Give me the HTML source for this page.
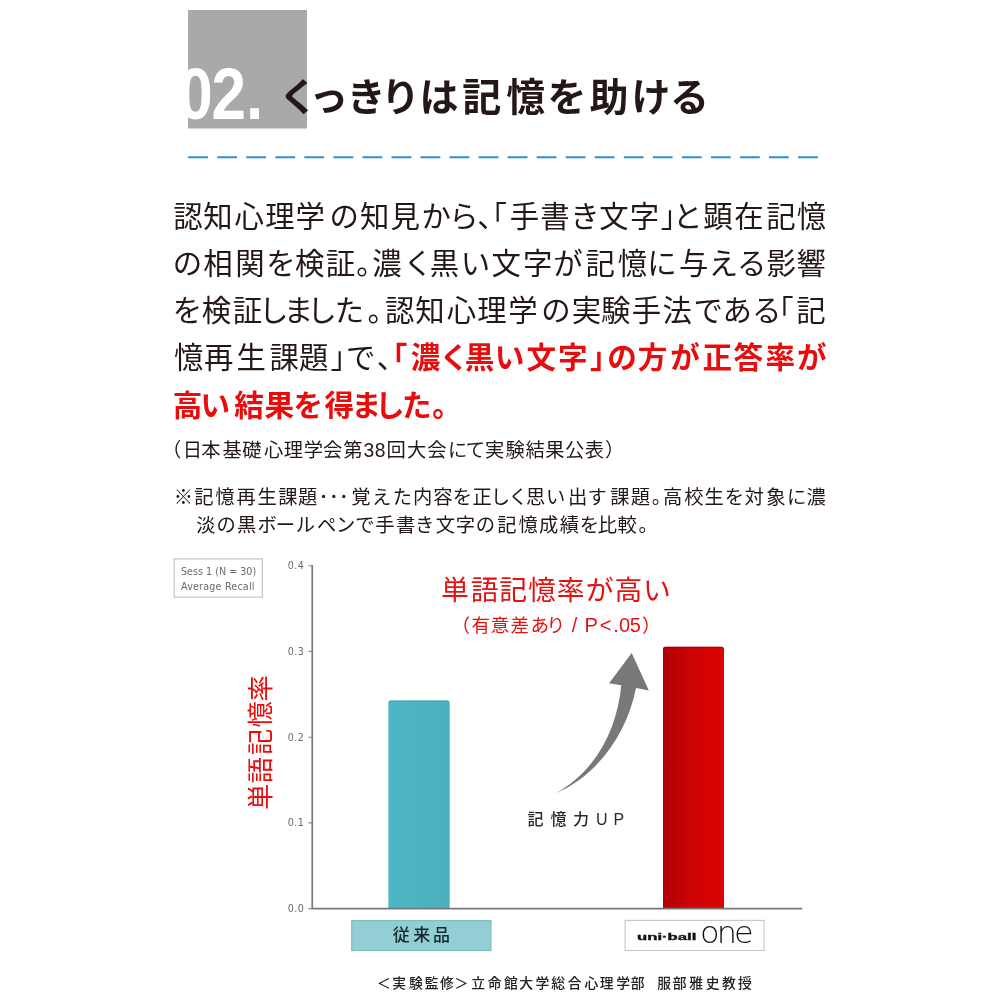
<!DOCTYPE html>
<html lang="ja">
<head>
<meta charset="utf-8">
<title>くっきりは記憶を助ける</title>
<style>
html,body{margin:0;padding:0;background:#fff;}
body{width:1000px;height:1000px;position:relative;overflow:hidden;}
svg{position:absolute;left:0;top:0;display:block;}
text{font-family:"Liberation Sans","Noto Sans CJK JP",sans-serif;fill:#231815;white-space:pre;}
.b{font-size:29.4px;font-weight:400;}
.r{fill:#e80d0d;font-weight:700;font-size:29.6px;}
.s{font-size:19.3px;font-weight:400;}
.ax{font-family:"DejaVu Sans","Liberation Sans",sans-serif;font-size:9.6px;fill:#6a6a6a;}
</style>
</head>
<body>
<svg width="1000" height="1000" viewBox="0 0 1000 1000">
<defs>
<linearGradient id="gr" x1="0" x2="1" y1="0" y2="0"><stop offset="0" stop-color="#b00005"/><stop offset="0.5" stop-color="#cf0303"/><stop offset="1" stop-color="#db0500"/></linearGradient>
<linearGradient id="gt" x1="0" x2="1" y1="0" y2="0"><stop offset="0" stop-color="#4fb6c6"/><stop offset="1" stop-color="#4ab0c0"/></linearGradient>
<clipPath id="cb"><rect x="188" y="10" width="119" height="118.5"/></clipPath>
</defs>
<rect x="188" y="10" width="119" height="118.5" fill="#a8a9aa"/>
<g clip-path="url(#cb)"><text id="num" transform="translate(181.00,119.30) scale(0.85,1)" x="-3.20 36.00 76.40" y="0" style="font-size:73px;font-weight:700;fill:#fff">02.</text></g>
<line x1="188.2" y1="157.3" x2="820" y2="157.3" stroke="#2b8fd8" stroke-width="2" stroke-dasharray="19.8 9.24"/>
<rect x="174.2" y="558.9" width="88.2" height="38.2" fill="#fff" stroke="#c4c4c4" stroke-width="1.2"/>
<text class="ax" x="181" y="575.2">Sess 1 (N = 30)</text>
<text class="ax" x="181" y="590.3" letter-spacing="0.18">Average Recall</text>
<text class="ax" x="287.8" y="569.2" letter-spacing="0.45">0.4</text>
<text class="ax" x="287.8" y="655.2" letter-spacing="0.45">0.3</text>
<text class="ax" x="287.8" y="741.2" letter-spacing="0.45">0.2</text>
<text class="ax" x="287.8" y="826.2" letter-spacing="0.45">0.1</text>
<text class="ax" x="287.8" y="912.2" letter-spacing="0.45">0.0</text>
<path d="M388.3 909V702.5a2 2 0 0 1 2-2h57.4a2 2 0 0 1 2 2V909z" fill="url(#gt)"/>
<path d="M390 701h58" stroke="#3a8f9e" stroke-width="1" opacity="0.55" fill="none"/>
<path d="M663 909V648.8a2 2 0 0 1 2-2h57a2 2 0 0 1 2 2V909z" fill="url(#gr)"/>
<path d="M664.5 647.3h58" stroke="#7a0000" stroke-width="1" opacity="0.5" fill="none"/>
<g stroke="#787878" stroke-width="1.7" fill="none">
<path d="M312.25 565V908.6H802.3"/>
<path d="M308.4 565.7h4M308.4 651.4h4M308.4 737.2h4M308.4 822.9h4M308.4 908.6h4" stroke="#8a8a8a" stroke-width="1.1"/>
</g>
<path d="M631.7 653.1L648.8 690.6L636 688C627.2 732.9 598.2 775.0 555.5 793.5C595.9 771.0 616.9 730.3 621.3 685.3L609.1 683.2Z" fill="#787878"/>
<rect x="351.7" y="920.6" width="139.3" height="30" fill="#92ced3" stroke="#7bb7c0" stroke-width="1"/>
<rect x="625.1" y="920.4" width="139" height="30.1" fill="#fff" stroke="#c6c6c6" stroke-width="1.1"/>
<text id="title" style="font-size:39px;font-weight:700" x="278.67 309.34 346.73 381.05 419.38 462.15 506.29 547.45 589.46 631.44 669.96" y="111.19">くっきりは記憶を助ける</text>
<text id="l1" class="b" x="173.26 203.19 234.41 265.14 295.58 329.39 359.96 390.59 421.53 449.29 477.18 477.58 509.67 540.19 570.37 599.25 629.81 660.72 673.10 703.27 734.35 766.13 796.83" y="227.14">認知心理学の知見から、「手書き文字」と顕在記憶</text>
<text id="l2" class="b" x="172.63 203.21 235.17 266.22 295.09 325.83 356.24 372.18 403.59 429.86 460.84 491.50 523.05 553.14 585.43 617.83 647.16 679.01 708.63 736.92 766.48 796.51" y="274.30">の相関を検証。濃く黒い文字が記憶に与える影響</text>
<text id="l3" class="b" x="172.74 201.83 232.83 258.88 283.70 307.16 334.69 367.50 385.02 415.19 446.67 477.14 508.33 541.37 571.79 601.07 631.67 662.52 693.55 722.46 751.92 764.13 796.13" y="321.35">を検証しました。認知心理学の実験手法である「記</text>
<text id="l4" class="b" x="174.06 204.12 236.56 269.48 299.00 330.59 346.05 376.66 377.86 410.65 439.55 464.74 494.81 526.42 558.00 590.07 607.17 637.86 670.14 702.44 733.62 765.53 796.88" y="368.21">憶再生課題」で、<tspan class="r">「濃く黒い文字」の方が正答率が</tspan></text>
<text id="l5" class="b r" x="172.85 200.46 234.18 264.57 293.49 324.40 351.52 375.04 402.06 432.14" y="416.31">高い結果を得ました。</text>
<text id="s1" class="s" x="161.90 182.84 201.29 222.54 242.19 264.10 283.83 303.80 323.07 343.19 363.62 374.65 386.57 407.03 427.32 447.91 465.85 485.03 505.56 525.54 545.35 565.06 584.63 605.04" y="456.62">（日本基礎心理学会第38回大会にて実験結果公表）</text>
<text id="s2" class="s" x="173.72 194.24 215.35 236.58 257.50 278.22 298.10 318.66 328.89 338.89 351.23 371.93 392.68 412.94 433.33 452.80 472.51 490.66 508.54 525.92 545.89 568.06 587.59 610.22 630.84 651.84 662.93 684.29 704.50 724.80 744.47 766.16 786.91 806.54" y="503.90">※記憶再生課題･･･覚えた内容を正しく思い出す課題。高校生を対象に濃</text>
<text id="s3" class="s" x="196.13 216.48 237.06 257.51 275.71 295.72 316.89 336.07 355.20 375.31 396.09 415.03 435.75 455.78 475.73 497.24 518.56 538.88 559.65 579.80 597.82 617.43 638.59" y="531.74">淡の黒ボールペンで手書き文字の記憶成績を比較。</text>
<text id="ct" style="font-size:27.8px;fill:#e61212" x="441.09 470.70 499.18 528.03 556.68 585.76 614.46 642.91" y="599.56">単語記憶率が高い</text>
<text id="cs" style="font-size:18.6px;fill:#e61212" x="451.46 471.39 490.77 510.39 530.47 546.59 559.15 571.71 578.07 584.43 599.68 613.20 619.01 629.64 641.98" y="632.01">（有意差あり <tspan style="font-size:20px">/ P&lt;.05</tspan>）</text>
<text id="vt" style="font-size:26.3px;fill:#ee0a0a" transform="translate(269.60,0) rotate(-90)" x="-809.90 -783.26 -755.02 -727.40 -701.50" y="0">単語記憶率</text>
<text id="up" style="font-size:16px;font-weight:500;fill:#2a2a2a" x="527.45 550.46 572.89 596.01 613.62" y="824.69">記憶力UP</text>
<text id="jr" style="font-size:17px;font-weight:500;fill:#14282d" x="392.68 413.26 433.04" y="941.17">従来品</text>
<text id="ub" style="font-size:10.7px;font-weight:700;fill:#111;stroke:#111;stroke-width:0.4px" transform="translate(636.89,940.39) scale(1.56,0.88)" x="0.00 6.62 13.16 16.08 19.62 26.19 32.13 35.16" y="0">uni·ball</text>
<text id="one" style="font-family:'DejaVu Sans',sans-serif;font-size:30.5px;font-weight:200;fill:#111" transform="translate(699.90,942.94) scale(1.05,1)" x="0.00 16.09 32.54" y="0">one</text>
<text id="ft" style="font-size:13.8px;font-weight:500;fill:#222" x="376.98 392.24 408.99 424.64 440.09 454.39 471.30 487.77 503.93 519.32 535.49 551.21 567.76 584.60 599.85 616.24 630.65 643.92 657.18 672.65 689.25 705.78 721.95 738.05" y="988.14">＜実験監修＞立命館大学総合心理学部　服部雅史教授</text>
</svg>
</body>
</html>
